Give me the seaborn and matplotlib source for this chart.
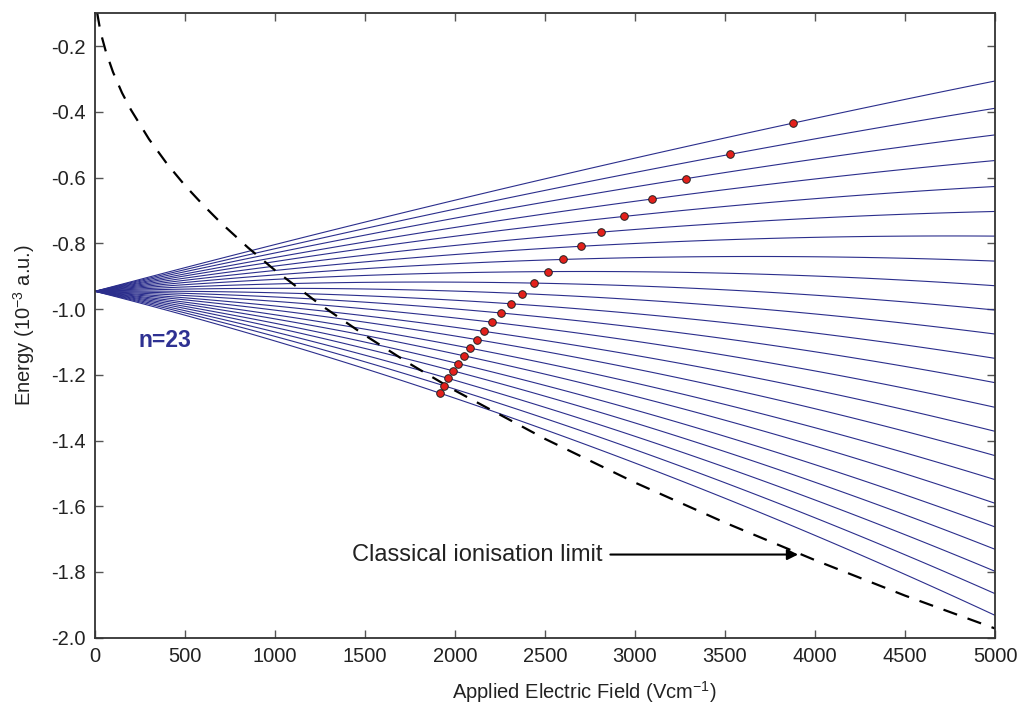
import numpy as np
import pandas as pd
import matplotlib
matplotlib.use("Agg")
import matplotlib.pyplot as plt
import seaborn as sns

# Stark manifold of n = 23: every level fans out from the zero-field energy
zero_field_energy = -0.946          # 10^-3 a.u.
field_max = 5000                    # V/cm

# energy of each Stark level at 5000 V/cm (top to bottom)
energy_at_max = [-0.306, -0.389, -0.470, -0.548, -0.627, -0.703, -0.778, -0.854,
                 -0.929, -1.003, -1.076, -1.150, -1.224, -1.299, -1.372, -1.446,
                 -1.519, -1.591, -1.663, -1.731, -1.798, -1.866, -1.932]

# field-ionisation points (one per level, top to bottom)
ion_field = [3879, 3530, 3285, 3096, 2941, 2809, 2698, 2600, 2515, 2441, 2374, 2313,
             2256, 2207, 2163, 2122, 2083, 2048, 2018, 1989, 1963, 1937, 1917]
ion_energy = [-0.434, -0.529, -0.603, -0.665, -0.718, -0.766, -0.809, -0.849, -0.886,
              -0.921, -0.953, -0.984, -1.012, -1.040, -1.068, -1.093, -1.119, -1.142,
              -1.166, -1.188, -1.211, -1.233, -1.256]

# classical saddle-point ionisation limit
limit_field = [12, 15, 25, 40, 60, 100, 150, 200, 300, 400, 500, 600, 700, 850, 1000,
               1250, 1500, 1750, 2000, 2500, 3000, 3500, 4000, 4500, 5000]
limit_energy = [-0.097, -0.108, -0.139, -0.176, -0.216, -0.279, -0.342, -0.394, -0.483,
                -0.558, -0.624, -0.683, -0.738, -0.813, -0.882, -0.986, -1.080, -1.167,
                -1.248, -1.395, -1.528, -1.650, -1.764, -1.872, -1.972]

x_ticks = [0, 500, 1000, 1500, 2000, 2500, 3000, 3500, 4000, 4500, 5000]
y_ticks = [-2.0, -1.8, -1.6, -1.4, -1.2, -1.0, -0.8, -0.6, -0.4, -0.2]

sns.set_theme(style="ticks")
plt.rcParams["font.family"] = ["Liberation Sans", "DejaVu Sans"]
plt.rcParams["axes.unicode_minus"] = False
plt.rcParams["mathtext.fontset"] = "custom"
plt.rcParams["mathtext.rm"] = "Liberation Sans"
plt.rcParams["mathtext.default"] = "regular"

line_color = "#2b2e8c"
text_color = "#2e3192"

fig = plt.figure(figsize=(10.26, 7.04), dpi=100)
ax = fig.add_axes([0.0926, 0.0942, 0.8772, 0.8869])

# each level: quadratic through zero field, its ionisation point and its value at 5000 V/cm
for e_end, f_ion, e_ion in zip(energy_at_max, ion_field, ion_energy):
    level = pd.DataFrame({"field": [0, f_ion, field_max],
                          "energy": [zero_field_energy, e_ion, e_end]})
    sns.regplot(data=level, x="field", y="energy", order=2, ci=None, scatter=False,
                truncate=True, ax=ax,
                line_kws={"color": line_color, "linewidth": 0.8})

limit = pd.DataFrame({"field": limit_field, "energy": limit_energy})
sns.lineplot(data=limit, x="field", y="energy", sort=False, color="black",
             linewidth=1.6, linestyle=(0, (6.5, 5)), ax=ax)

ions = pd.DataFrame({"field": ion_field, "energy": ion_energy})
sns.scatterplot(data=ions, x="field", y="energy", s=30, color="#e3201b",
                edgecolor="#222222", linewidth=0.7, zorder=5, ax=ax)

ax.set_xlim(0, 5000)
ax.set_ylim(-2.0, -0.1)
ax.set_xticks(x_ticks)
ax.set_xticklabels([str(t) for t in x_ticks])
ax.set_yticks(y_ticks)
ax.set_yticklabels([f"{t:.1f}" for t in y_ticks])
ax.tick_params(direction="in", length=6, width=1.0, color="#555555",
               labelsize=14.5, labelcolor="#222222", top=True, right=True, pad=7)
for side in ax.spines.values():
    side.set_linewidth(1.3)
    side.set_color("#333333")
    side.set_visible(True)

ax.set_xlabel("Applied Electric Field (Vcm$^{-1}$)", fontsize=14.5, color="#222222",
              labelpad=10)
ax.xaxis.set_label_coords(0.544, -0.066)
ax.set_ylabel("Energy (10$^{-3}$ a.u.)", fontsize=14.5, color="#222222", labelpad=10)

ax.text(386, -1.096, "n=23", fontsize=16.5, fontweight="bold", color=text_color,
        ha="center", va="center")

ax.annotate("Classical ionisation limit", xy=(3906, -1.747), xytext=(1430, -1.747),
            fontsize=17, color="#222222", ha="left", va="center",
            arrowprops=dict(arrowstyle="-|>", color="black", lw=1.5,
                            mutation_scale=16, shrinkA=3, shrinkB=0))

fig.savefig("out.png", dpi=100)
